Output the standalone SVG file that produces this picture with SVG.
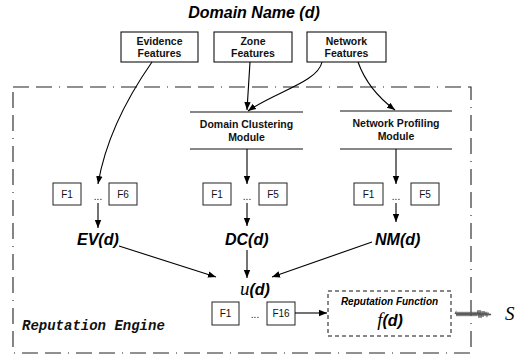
<svg xmlns="http://www.w3.org/2000/svg" width="519" height="358" viewBox="0 0 519 358">
<style>
.bx{fill:#fff;stroke:#111;stroke-width:1.1}
.fb{fill:#fff;stroke:#222;stroke-width:1}
.hd{font-family:"Liberation Sans",Arial,sans-serif;font-weight:bold;font-size:10.5px;fill:#111;text-anchor:middle}
.ft{font-family:"Liberation Sans",Arial,sans-serif;font-size:10px;fill:#111;text-anchor:middle}
.big{font-family:"Liberation Sans",Arial,sans-serif;font-weight:bold;font-style:italic;font-size:16px;fill:#000}
.mth{font-family:"Liberation Serif","Times New Roman",serif;font-style:italic;font-size:19px;fill:#000}
.ml{stroke:#111;stroke-width:1.2}
.ar{fill:none;stroke:#000;stroke-width:1.1;marker-end:url(#ah)}
</style>
<defs>
<marker id="ah" viewBox="0 0 10 10" refX="10" refY="5" markerWidth="8" markerHeight="8" markerUnits="userSpaceOnUse" orient="auto">
<path d="M0,1 L10,5 L0,9 Z" fill="#000"/>
</marker>
</defs>
<rect width="519" height="358" fill="#fff"/>

<g id="engine">
<rect x="13" y="87" width="458" height="266" fill="none" stroke="#222" stroke-width="1.1" stroke-dasharray="16 7 16 7 1 7"/>
<text x="22" y="330" font-family="'Liberation Mono','Courier New',monospace" font-weight="bold" font-style="italic" font-size="14" fill="#111">Reputation Engine</text>
</g>

<g id="title">
<text x="254" y="18" class="big" text-anchor="middle">Domain Name (d)</text>
</g>

<g id="evidence">
<rect class="bx" x="121" y="32" width="77" height="30"/>
<text class="hd" x="159.5" y="45">Evidence</text>
<text class="hd" x="159.5" y="57">Features</text>
</g>
<g id="zone">
<rect class="bx" x="214" y="32" width="78" height="30"/>
<text class="hd" x="253" y="45">Zone</text>
<text class="hd" x="253" y="57">Features</text>
</g>
<g id="network">
<rect class="bx" x="307" y="32" width="79" height="30"/>
<text class="hd" x="346.5" y="45">Network</text>
<text class="hd" x="346.5" y="57">Features</text>
</g>

<g id="dcm">
<line class="ml" x1="190" y1="112" x2="303" y2="112"/>
<line class="ml" x1="190" y1="149" x2="303" y2="149"/>
<text class="hd" x="246.5" y="128">Domain Clustering</text>
<text class="hd" x="246.5" y="141">Module</text>
</g>
<g id="npm">
<line class="ml" x1="340" y1="111" x2="452" y2="111"/>
<line class="ml" x1="340" y1="149" x2="452" y2="149"/>
<text class="hd" x="396" y="127">Network Profiling</text>
<text class="hd" x="396" y="140">Module</text>
</g>

<g id="ev-features">
<rect class="fb" x="53" y="183" width="28" height="22"/>
<text class="ft" x="67" y="198">F1</text>
<text class="ft" x="98" y="200">...</text>
<rect class="fb" x="109" y="183" width="28" height="22"/>
<text class="ft" x="123" y="198">F6</text>
</g>
<g id="dc-features">
<rect class="fb" x="203" y="183" width="28" height="22"/>
<text class="ft" x="217" y="198">F1</text>
<text class="ft" x="247" y="200">...</text>
<rect class="fb" x="259" y="183" width="28" height="22"/>
<text class="ft" x="273" y="198">F5</text>
</g>
<g id="nm-features">
<rect class="fb" x="354" y="183" width="29" height="22"/>
<text class="ft" x="368.5" y="198">F1</text>
<text class="ft" x="396" y="200">...</text>
<rect class="fb" x="411" y="183" width="28" height="22"/>
<text class="ft" x="425" y="198">F5</text>
</g>

<g id="ev"><text class="big" x="77" y="245">EV(d)</text></g>
<g id="dc"><text class="big" x="225" y="245">DC(d)</text></g>
<g id="nm"><text class="big" x="375" y="245">NM(d)</text></g>

<g id="u">
<text x="240" y="295"><tspan class="mth">u</tspan><tspan class="big">(d)</tspan></text>
</g>

<g id="all-features">
<rect class="fb" x="212" y="302" width="27" height="23"/>
<text class="ft" x="225.5" y="317">F1</text>
<text class="ft" x="255" y="318">...</text>
<rect class="fb" x="267" y="302" width="28" height="23"/>
<text class="ft" x="281" y="317">F16</text>
</g>

<g id="repfunc">
<rect x="328" y="291" width="123" height="45" fill="#fff" stroke="#111" stroke-width="1" stroke-dasharray="4 3"/>
<text x="389.5" y="305" font-family="'Liberation Sans',Arial,sans-serif" font-weight="bold" font-style="italic" font-size="10px" text-anchor="middle">Reputation Function</text>
<text x="390" y="326" text-anchor="middle"><tspan class="mth">f</tspan><tspan class="big">(d)</tspan></text>
</g>

<g id="s">
<text class="mth" x="505" y="320">S</text>
</g>

<g id="connectors">
<path class="ar" d="M152,62 Q108,125 98,184"/>
<path class="ar" d="M250,62 L247,110"/>
<path class="ar" d="M322,62 C318,82 275,92 248,111"/>
<path class="ar" d="M358,62 Q368,90 395,110"/>
<path class="ar" d="M247,149 L247,184"/>
<path class="ar" d="M396,149 L396,184"/>
<path class="ar" d="M98,203 L98,228"/>
<path class="ar" d="M247,203 L247,226"/>
<path class="ar" d="M396,203 L396,222"/>
<path class="ar" d="M119,246 L216,277"/>
<path class="ar" d="M247,250 L247,278"/>
<path class="ar" d="M372,242 L272,277"/>
<path class="ar" d="M295,313 L327,313"/>
<path fill="none" stroke="#555" stroke-width="1.1" d="M455,314 l1,-2 l1,4 l1,-4 l1,4 l1,-4 l1,4 l1,-4 l1,4 l1,-4 l1,4 l1,-4 l1,4 l1,-4 l1,4 l1,-4 l1,4 l1,-4 l1,4 l1,-4 l1,4 l1,-4 l1,4 l1,-6 l1,8 l1,-8 l1,8 l1,-7 l1,6 l1,-6 l1,5 l1,-4 l1,4 l1,-3 l1,2 l1,-1 l1,1"/>
</g>
</svg>
